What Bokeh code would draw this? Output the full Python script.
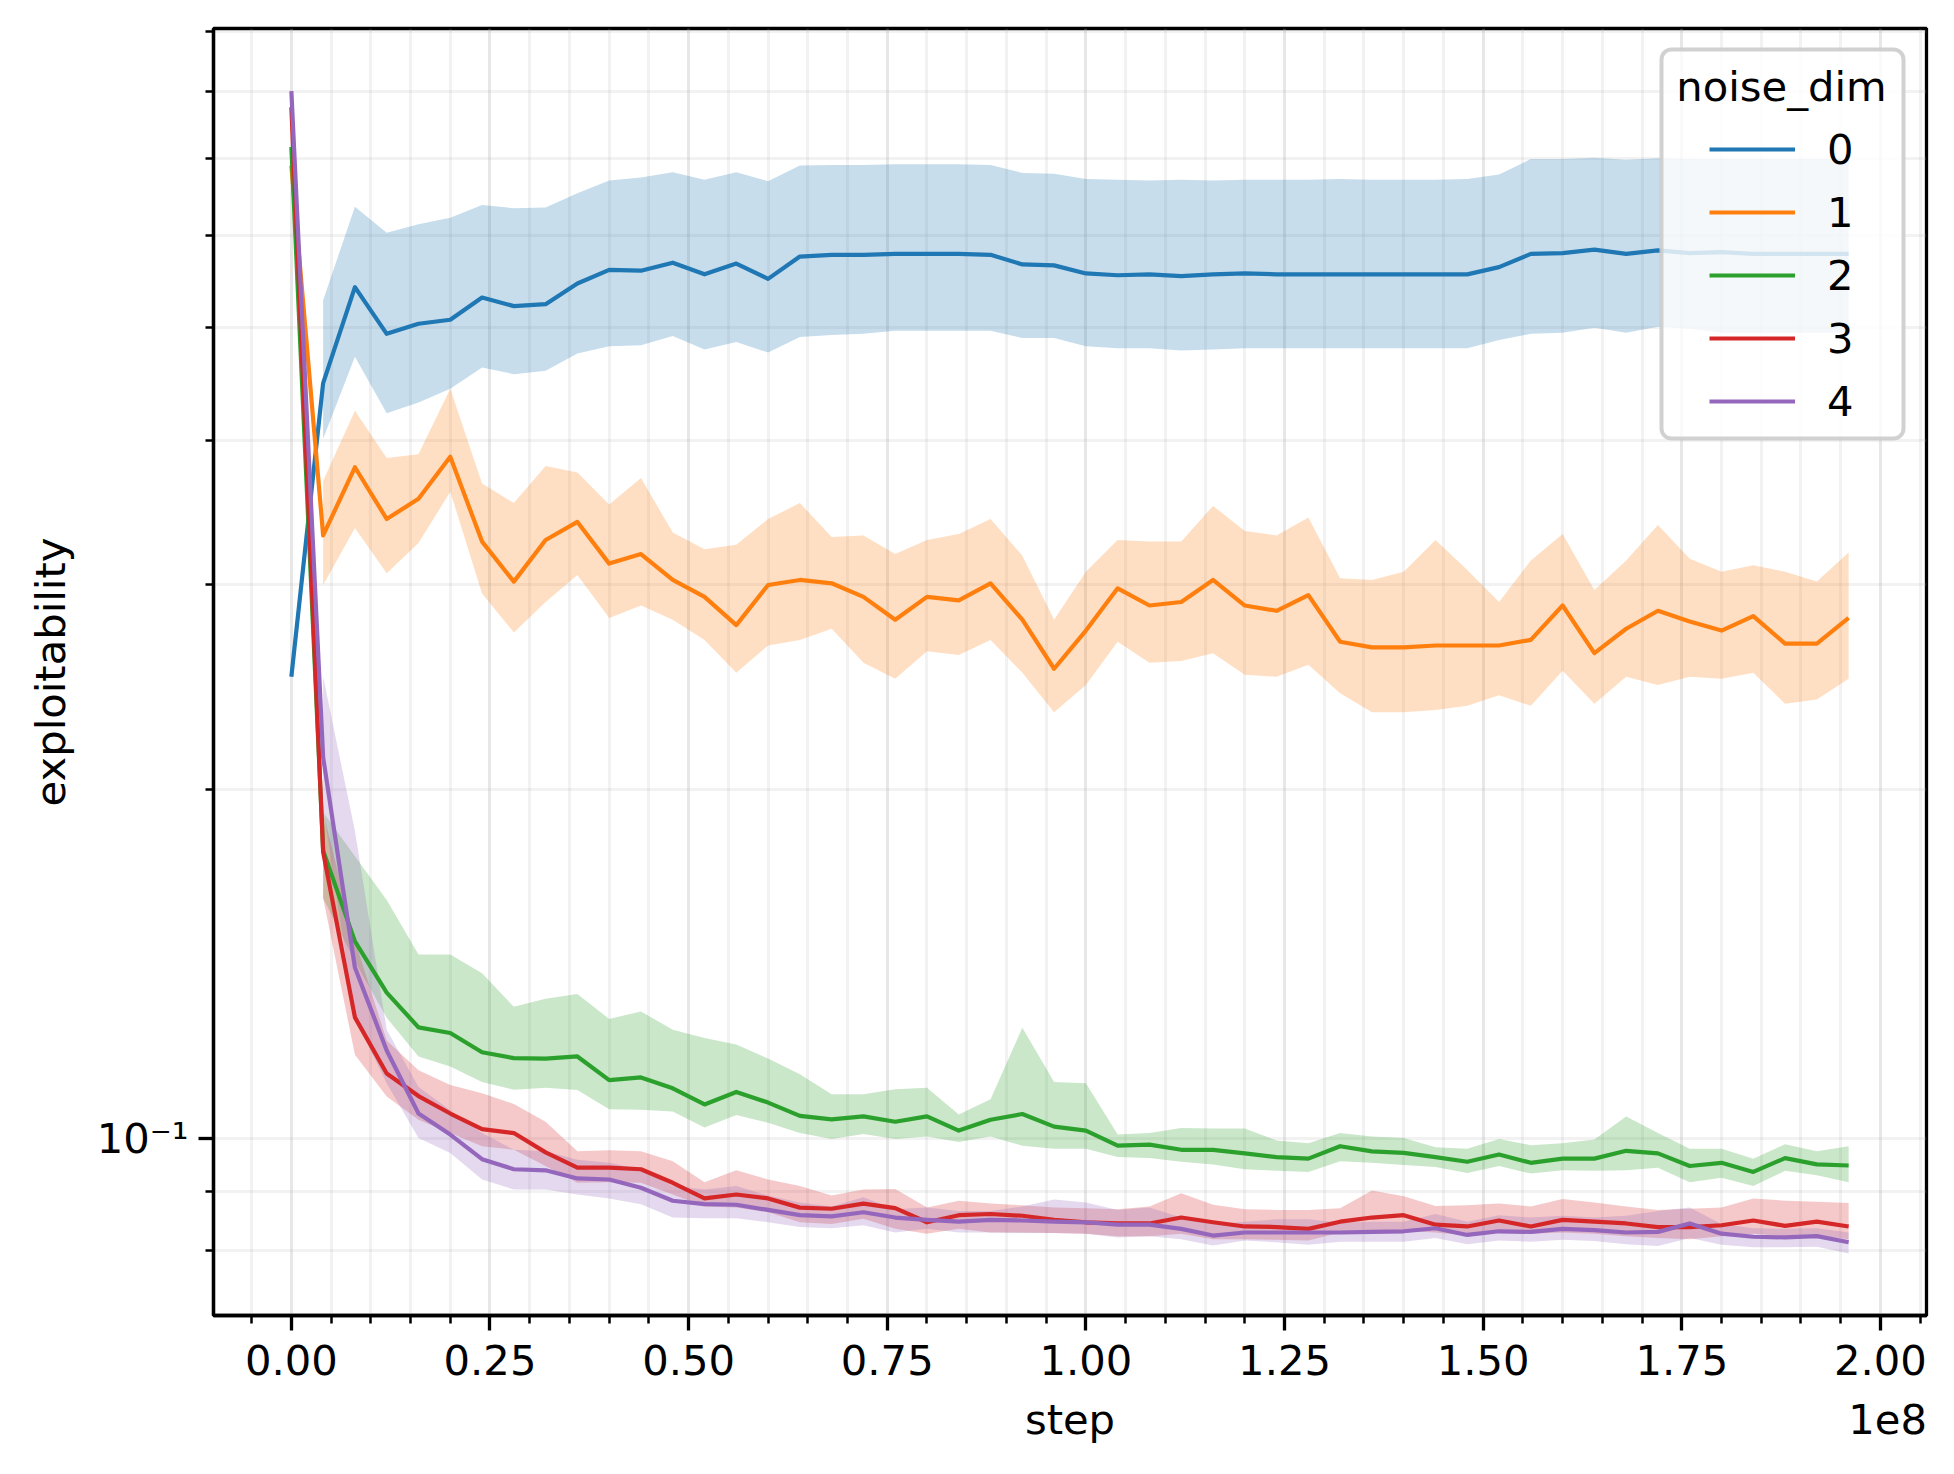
from bokeh.plotting import figure
from bokeh.models import (Range1d, FixedTicker, CustomJSTickFormatter, Legend, LegendItem,
                          BoxAnnotation, Label, LinearAxis)
from bokeh.embed import file_html
from bokeh.resources import INLINE

# ---------------- data ----------------
step_millions = [0, 4, 8, 12, 16, 20, 24, 28, 32, 36, 40, 44, 48, 52, 56, 60, 64, 68, 72, 76,
                 80, 84, 88, 92, 96, 100, 104, 108, 112, 116, 120, 124, 128, 132, 136, 140,
                 144, 148, 152, 156, 160, 164, 168, 172, 176, 180, 184, 188, 192, 196]
steps = [s * 1e6 for s in step_millions]
band_steps = steps[1:]

noise_dims = ["0", "1", "2", "3", "4"]
colors = ["#1f77b4", "#ff7f0e", "#2ca02c", "#d62728", "#9467bd"]

mean_0 = [0.250, 0.448, 0.542, 0.494, 0.504, 0.508, 0.531, 0.522, 0.524, 0.546,
          0.561, 0.560, 0.569, 0.556, 0.568, 0.551, 0.576, 0.578, 0.578, 0.579,
          0.579, 0.579, 0.578, 0.567, 0.566, 0.557, 0.555, 0.556, 0.554, 0.556,
          0.557, 0.556, 0.556, 0.556, 0.556, 0.556, 0.556, 0.556, 0.564, 0.579,
          0.580, 0.584, 0.579, 0.583, 0.580, 0.581, 0.579, 0.579, 0.579, 0.579]
upper_0 = [0.528, 0.636, 0.604, 0.614, 0.622, 0.638, 0.634, 0.635, 0.653,
           0.670, 0.674, 0.681, 0.671, 0.681, 0.669, 0.690, 0.691, 0.691, 0.692,
           0.692, 0.692, 0.691, 0.680, 0.679, 0.672, 0.671, 0.670, 0.671, 0.670,
           0.671, 0.671, 0.671, 0.672, 0.671, 0.671, 0.671, 0.672, 0.678, 0.699,
           0.699, 0.701, 0.698, 0.700, 0.699, 0.699, 0.699, 0.699, 0.699, 0.699]
lower_0 = [0.401, 0.472, 0.422, 0.431, 0.443, 0.462, 0.456, 0.459, 0.475,
           0.482, 0.483, 0.492, 0.479, 0.486, 0.476, 0.491, 0.493, 0.494, 0.497,
           0.497, 0.497, 0.497, 0.490, 0.490, 0.482, 0.480, 0.480, 0.478, 0.479,
           0.480, 0.480, 0.480, 0.480, 0.480, 0.480, 0.480, 0.480, 0.488, 0.494,
           0.495, 0.500, 0.495, 0.501, 0.499, 0.495, 0.495, 0.495, 0.495, 0.495]

mean_1 = [0.690, 0.331, 0.379, 0.342, 0.356, 0.387, 0.327, 0.302, 0.328, 0.340,
          0.313, 0.319, 0.303, 0.293, 0.277, 0.300, 0.303, 0.301, 0.293, 0.280,
          0.293, 0.291, 0.301, 0.280, 0.254, 0.274, 0.298, 0.288, 0.290, 0.303,
          0.288, 0.285, 0.294, 0.268, 0.265, 0.265, 0.266, 0.266, 0.266, 0.269,
          0.288, 0.262, 0.275, 0.285, 0.279, 0.274, 0.282, 0.267, 0.267, 0.281]
upper_1 = [0.369, 0.424, 0.386, 0.389, 0.443, 0.367, 0.353, 0.380, 0.375,
           0.352, 0.371, 0.333, 0.322, 0.325, 0.342, 0.353, 0.330, 0.331, 0.319,
           0.328, 0.332, 0.342, 0.318, 0.280, 0.308, 0.328, 0.327, 0.327, 0.351,
           0.334, 0.331, 0.343, 0.304, 0.303, 0.308, 0.328, 0.309, 0.290, 0.315,
           0.332, 0.297, 0.315, 0.338, 0.316, 0.308, 0.312, 0.308, 0.302, 0.320]
lower_1 = [0.300, 0.336, 0.307, 0.326, 0.361, 0.295, 0.273, 0.290, 0.306,
           0.281, 0.288, 0.280, 0.269, 0.252, 0.266, 0.269, 0.275, 0.257, 0.249,
           0.263, 0.261, 0.269, 0.252, 0.233, 0.246, 0.268, 0.257, 0.258, 0.262,
           0.251, 0.250, 0.256, 0.242, 0.233, 0.233, 0.234, 0.236, 0.241, 0.236,
           0.253, 0.237, 0.250, 0.246, 0.250, 0.249, 0.252, 0.237, 0.239, 0.249]

mean_2 = [0.716, 0.177, 0.1478, 0.1335, 0.1246, 0.1232, 0.1186, 0.1172, 0.1171, 0.1176,
          0.1122, 0.1128, 0.1104, 0.1069, 0.1096, 0.1073, 0.1045, 0.1038, 0.1044, 0.1033,
          0.1044, 0.1015, 0.1037, 0.1049, 0.1023, 0.1015, 0.0985, 0.0987, 0.0977, 0.0977,
          0.0970, 0.0963, 0.0960, 0.0984, 0.0974, 0.0971, 0.0963, 0.0954, 0.0968, 0.0952,
          0.0960, 0.0960, 0.0975, 0.0970, 0.0946, 0.0952, 0.0935, 0.0961, 0.0949, 0.0947]
upper_2 = [0.191, 0.175, 0.1605, 0.144, 0.144, 0.1387, 0.1298, 0.1319, 0.1331,
           0.1267, 0.1286, 0.124, 0.122, 0.1204, 0.1171, 0.1135, 0.1091, 0.1091, 0.1102,
           0.1105, 0.1048, 0.108, 0.1245, 0.1118, 0.1115, 0.1007, 0.1010, 0.1020, 0.1019,
           0.1019, 0.0995, 0.0990, 0.1010, 0.1003, 0.1000, 0.0982, 0.0979, 0.0998, 0.0986,
           0.0990, 0.0997, 0.1044, 0.1010, 0.0979, 0.0979, 0.0960, 0.0988, 0.0974, 0.0984]
lower_2 = [0.161, 0.142, 0.127, 0.1176, 0.1153, 0.1118, 0.1101, 0.1105, 0.1100,
           0.1059, 0.1058, 0.1054, 0.1021, 0.1047, 0.1031, 0.1010, 0.0998, 0.1008, 0.0998,
           0.1003, 0.0992, 0.1003, 0.0985, 0.0979, 0.0979, 0.0963, 0.0961, 0.0954, 0.0949,
           0.0940, 0.0937, 0.0935, 0.0955, 0.0952, 0.0948, 0.0944, 0.0933, 0.0946, 0.0932,
           0.0938, 0.0937, 0.0938, 0.0943, 0.0916, 0.0924, 0.0909, 0.0937, 0.0929, 0.0916]

mean_3 = [0.775, 0.1765, 0.1271, 0.1137, 0.1087, 0.1050, 0.1018, 0.1010, 0.0972, 0.0943,
          0.0943, 0.0940, 0.0915, 0.0887, 0.0894, 0.0887, 0.0871, 0.0869, 0.0878, 0.0870,
          0.0846, 0.0858, 0.0860, 0.0857, 0.0850, 0.0846, 0.0844, 0.0844, 0.0854, 0.0846,
          0.0839, 0.0838, 0.0835, 0.0847, 0.0854, 0.0858, 0.0842, 0.0839, 0.0849, 0.0839,
          0.0850, 0.0847, 0.0844, 0.0838, 0.0838, 0.0841, 0.0849, 0.0840, 0.0847, 0.0839]
upper_3 = [0.191, 0.148, 0.1214, 0.1144, 0.1111, 0.1093, 0.1070, 0.1033, 0.0974,
           0.0976, 0.0974, 0.0955, 0.0916, 0.0938, 0.0921, 0.0909, 0.0892, 0.0903, 0.0904,
           0.0871, 0.0883, 0.0878, 0.0875, 0.0871, 0.0870, 0.0868, 0.0873, 0.0896, 0.0876,
           0.0868, 0.0867, 0.0867, 0.0870, 0.0901, 0.0891, 0.0874, 0.0875, 0.0878, 0.0873,
           0.0886, 0.0880, 0.0873, 0.0867, 0.0869, 0.0871, 0.0887, 0.0883, 0.0881, 0.0879]
lower_3 = [0.161, 0.118, 0.1086, 0.1037, 0.1010, 0.0984, 0.0977, 0.0946, 0.0915,
           0.0916, 0.0915, 0.0894, 0.0873, 0.0871, 0.0863, 0.0846, 0.0843, 0.0852, 0.0835,
           0.0827, 0.0835, 0.0829, 0.0829, 0.0828, 0.0827, 0.0823, 0.0823, 0.0827, 0.0818,
           0.0818, 0.0817, 0.0816, 0.0829, 0.0829, 0.0832, 0.0829, 0.0824, 0.0829, 0.0827,
           0.0829, 0.0827, 0.0823, 0.0820, 0.0818, 0.0823, 0.0827, 0.0823, 0.0824, 0.0818]

mean_4 = [0.800, 0.213, 0.1403, 0.1190, 0.1050, 0.1007, 0.0959, 0.0940, 0.0938, 0.0923,
          0.0921, 0.0906, 0.0883, 0.0877, 0.0876, 0.0867, 0.0858, 0.0856, 0.0863, 0.0854,
          0.0850, 0.0847, 0.0850, 0.0849, 0.0847, 0.0846, 0.0842, 0.0842, 0.0835, 0.0824,
          0.0829, 0.0829, 0.0829, 0.0829, 0.0830, 0.0831, 0.0836, 0.0825, 0.0831, 0.0830,
          0.0835, 0.0833, 0.0829, 0.0830, 0.0844, 0.0827, 0.0822, 0.0821, 0.0823, 0.0813]
upper_4 = [0.250, 0.184, 0.124, 0.1107, 0.1057, 0.1010, 0.0977, 0.0974, 0.0958,
           0.0952, 0.0940, 0.0909, 0.0903, 0.0909, 0.0892, 0.0880, 0.0873, 0.0889, 0.0868,
           0.0871, 0.0865, 0.0865, 0.0873, 0.0885, 0.0880, 0.0867, 0.0871, 0.0854, 0.0843,
           0.0847, 0.0851, 0.0851, 0.0845, 0.0847, 0.0847, 0.0860, 0.0847, 0.0858, 0.0854,
           0.0857, 0.0854, 0.0857, 0.0865, 0.0871, 0.0843, 0.0836, 0.0835, 0.0836, 0.0829]
lower_4 = [0.193, 0.127, 0.1115, 0.1000, 0.0971, 0.0921, 0.0903, 0.0903, 0.0894,
           0.0887, 0.0877, 0.0854, 0.0853, 0.0853, 0.0846, 0.0838, 0.0836, 0.0841, 0.0829,
           0.0835, 0.0829, 0.0829, 0.0828, 0.0828, 0.0827, 0.0821, 0.0823, 0.0818, 0.0808,
           0.0816, 0.0813, 0.0809, 0.0814, 0.0814, 0.0814, 0.0820, 0.0810, 0.0816, 0.0814,
           0.0817, 0.0815, 0.0810, 0.0807, 0.0820, 0.0809, 0.0805, 0.0805, 0.0806, 0.0795]

means = [mean_0, mean_1, mean_2, mean_3, mean_4]
uppers = [upper_0, upper_1, upper_2, upper_3, upper_4]
lowers = [lower_0, lower_1, lower_2, lower_3, lower_4]

x_ticks = [0, 25e6, 50e6, 75e6, 100e6, 125e6, 150e6, 175e6, 200e6]
x_tick_labels = ["0.00", "0.25", "0.50", "0.75", "1.00", "1.25", "1.50", "1.75", "2.00"]
x_minor_ticks = [-5e6, 0, 5e6, 10e6, 15e6, 20e6, 25e6, 30e6, 35e6, 40e6, 45e6, 50e6, 55e6,
                 60e6, 65e6, 70e6, 75e6, 80e6, 85e6, 90e6, 95e6, 100e6, 105e6, 110e6, 115e6,
                 120e6, 125e6, 130e6, 135e6, 140e6, 145e6, 150e6, 155e6, 160e6, 165e6,
                 170e6, 175e6, 180e6, 185e6, 190e6, 195e6, 200e6, 205e6]
y_ticks = [0.1]
y_tick_labels = ["10\u207b\u00b9"]
y_minor_ticks = [0.08, 0.09, 0.2, 0.3, 0.4, 0.5, 0.6, 0.7, 0.8, 0.9]

x_axis_texts = ["step", "1e8"]          # axis title and offset text of the x axis
x_axis_text_pos = [0.98e8, 2.009e8]     # where they sit along the x axis

# ---------------- figure ----------------
FONT = "DejaVu Sans"
FS = "41.7px"

p = figure(width=1940, height=1460, output_backend="svg", toolbar_location=None,
           x_range=Range1d(-0.098e8, 2.058e8), y_range=Range1d(0.0703, 0.906),
           y_axis_type="log")
p.min_border_left = 213
p.min_border_right = 14
p.min_border_top = 28
p.min_border_bottom = 145
p.background_fill_color = "white"
p.border_fill_color = "white"
p.outline_line_color = "black"
p.outline_line_width = 3.3
p.outline_line_alpha = 1.0

for g in (p.xgrid, p.ygrid):
    g.grid_line_color = "#b0b0b0"
    g.grid_line_alpha = 0.16
    g.grid_line_width = 3
    g.minor_grid_line_color = "#b0b0b0"
    g.minor_grid_line_alpha = 0.16
    g.minor_grid_line_width = 3

LOOKUP = """let b = 0;
for (let i = 0; i < tvals.length; i++) {
  if (Math.abs(tvals[i] - tick) < Math.abs(tvals[b] - tick)) b = i;
}
return tlabels[b];"""

xax = p.xaxis[0]
yax = p.yaxis[0]
xax.ticker = FixedTicker(ticks=x_ticks, minor_ticks=x_minor_ticks)
xax.formatter = CustomJSTickFormatter(args=dict(tvals=x_ticks, tlabels=x_tick_labels), code=LOOKUP)
yax.ticker = FixedTicker(ticks=y_ticks, minor_ticks=y_minor_ticks)
yax.formatter = CustomJSTickFormatter(args=dict(tvals=y_ticks, tlabels=y_tick_labels), code=LOOKUP)

for ax in (xax, yax):
    ax.axis_line_color = "black"
    ax.axis_line_width = 3.3
    ax.major_tick_line_width = 3.3
    ax.minor_tick_line_width = 2.5
    ax.major_tick_out = 15
    ax.major_tick_in = 0
    ax.minor_tick_out = 8
    ax.minor_tick_in = 0
    ax.major_label_text_font = FONT
    ax.major_label_text_font_size = FS
    ax.major_label_text_color = "black"
    ax.axis_label_text_font = FONT
    ax.axis_label_text_font_size = FS
    ax.axis_label_text_font_style = "normal"
    ax.axis_label_text_color = "black"

xax.axis_label = None
xax.major_label_standoff = 14
yax.axis_label = "exploitability"
yax.major_label_standoff = 10
yax.axis_label_standoff = 19

# second row under the x axis: "step" (centred) and the "1e8" offset text (right)
xrow = LinearAxis(ticker=FixedTicker(ticks=x_axis_text_pos, minor_ticks=[]),
                  formatter=CustomJSTickFormatter(args=dict(tvals=x_axis_text_pos, tlabels=x_axis_texts),
                                                  code=LOOKUP),
                  axis_line_color=None, major_tick_line_color=None, minor_tick_line_color=None,
                  major_tick_out=0, major_tick_in=0, minor_tick_out=0, minor_tick_in=0,
                  major_label_standoff=17, major_label_text_font=FONT,
                  major_label_text_font_size=FS, major_label_text_color="black")
p.add_layout(xrow, "below")

# bands first (below all lines), then lines
for i in range(5):
    p.varea(x=band_steps, y1=lowers[i], y2=uppers[i], fill_color=colors[i], fill_alpha=0.25)

line_renderers = []
for i in range(5):
    r = p.line(steps, means[i], line_color=colors[i], line_width=4.2, line_join="round")
    line_renderers.append(r)

# legend frame
box = BoxAnnotation(left=1448, right=1690, top=1266, bottom=877,
                    left_units="screen", right_units="screen",
                    top_units="screen", bottom_units="screen",
                    fill_color="white", fill_alpha=0.8,
                    line_color="#cccccc", line_alpha=0.9, line_width=4)
try:
    box.border_radius = 10
except Exception:
    pass
p.add_layout(box)

legend = Legend(items=[LegendItem(label=noise_dims[i], renderers=[line_renderers[i]]) for i in range(5)],
                location=(1496, 889), orientation="vertical",
                glyph_width=86, glyph_height=50, label_height=50, spacing=13,
                label_standoff=32, padding=0, margin=0,
                border_line_color=None, background_fill_alpha=0.0,
                label_text_font=FONT, label_text_font_size=FS, label_text_color="black")
p.add_layout(legend)

title_lbl = Label(x=1568, y=1229, x_units="screen", y_units="screen", text="noise_dim",
                  text_align="center", text_baseline="alphabetic",
                  text_font=FONT, text_font_size=FS, text_color="black")
p.add_layout(title_lbl)

open("out.html", "w").write(file_html(p, INLINE))
